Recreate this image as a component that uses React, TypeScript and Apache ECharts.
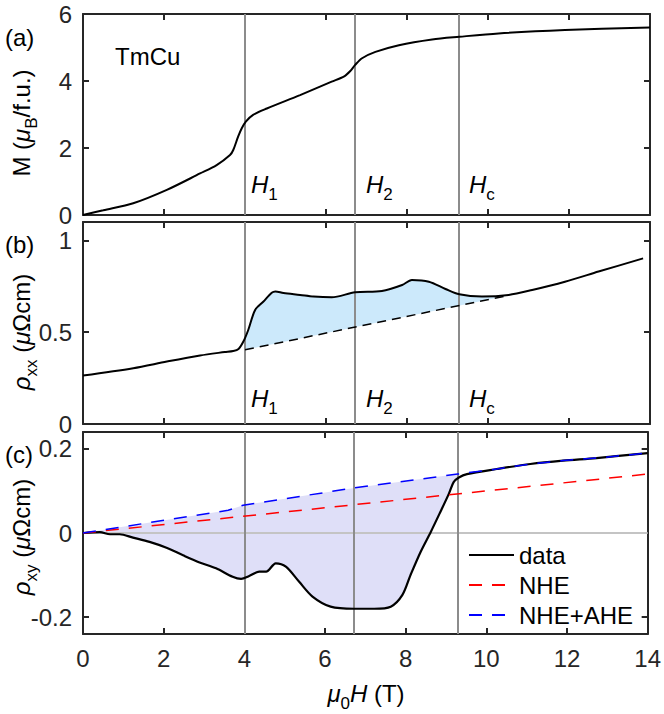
import React, { useEffect, useRef } from 'react';
import * as echarts from 'echarts';

// ---------- data ----------
const FIELD_M = [0, 0.5, 1.24, 2.07, 2.89, 3.3, 3.63, 3.71, 3.83, 3.92, 4.02, 4.2, 4.54, 5.36, 6.14, 6.45, 6.6, 6.72, 6.89, 7.22, 7.8, 8.62, 9.29, 10.26, 11.9, 14];
const MAGNET = [0, 0.14, 0.35, 0.75, 1.24, 1.49, 1.79, 1.94, 2.34, 2.59, 2.79, 2.99, 3.18, 3.58, 3.98, 4.14, 4.3, 4.48, 4.68, 4.87, 5.07, 5.24, 5.32, 5.42, 5.52, 5.6];

const FIELD_XX = [0, 1.24, 2.07, 2.89, 3.5, 3.71, 3.84, 3.96, 4.08, 4.25, 4.45, 4.66, 4.75, 4.95, 5.36, 5.69, 6.14, 6.72, 7.38, 7.88, 8.12, 8.54, 8.95, 9.29, 9.85, 10.51, 11.09, 11.9, 12.73, 13.83];
const RHO_XX = [0.264, 0.304, 0.34, 0.373, 0.392, 0.398, 0.409, 0.449, 0.512, 0.621, 0.666, 0.715, 0.722, 0.713, 0.703, 0.694, 0.69, 0.717, 0.724, 0.757, 0.784, 0.775, 0.735, 0.706, 0.694, 0.703, 0.73, 0.775, 0.83, 0.902];
const FIELD_BASE = [4.0, 10.5];
const RHO_BASE = [0.404, 0.7];

const FIELD_XY = [0, 0.42, 0.67, 0.91, 1.24, 1.65, 2.07, 2.48, 2.89, 3.3, 3.71, 3.92, 4.12, 4.37, 4.54, 4.78, 5.03, 5.36, 5.69, 6.14, 6.72, 7.22, 7.63, 7.92, 8.12, 8.37, 8.62, 8.86, 9.07, 9.19, 9.32, 9.52, 10.26, 11.09, 11.9, 12.73, 14];
const RHO_XY = [0, 0.002, -0.003, -0.003, -0.011, -0.021, -0.035, -0.053, -0.07, -0.084, -0.104, -0.109, -0.102, -0.092, -0.092, -0.072, -0.08, -0.116, -0.151, -0.175, -0.18, -0.18, -0.175, -0.147, -0.1, -0.045, 0.002, 0.05, 0.093, 0.121, 0.132, 0.14, 0.152, 0.164, 0.172, 0.178, 0.19];
const FIELD_NHE = [0, 14];
const RHO_NHE = [0, 0.14];
const FIELD_AHE = [0, 3.6, 3.97, 6.72, 9.29, 10.26, 11.09, 11.9, 12.73, 14];
const RHO_AHE = [0, 0.054, 0.066, 0.107, 0.14, 0.152, 0.164, 0.172, 0.178, 0.19];

const CRIT_FIELDS = [4.0, 6.72, 9.29];
const M_TICKS = [0, 2, 4, 6];
const XX_TICKS = [0, 0.5, 1];
const XY_TICKS = [-0.2, 0, 0.2];

// ---------- styling ----------
const FONT = '"Liberation Sans", Arial, Helvetica, sans-serif';
const AX = '#262626';
const GREY = '#8c8c8c';
const DASH = [13, 10];

const zip = (xs: number[], ys: number[]) => xs.map((x, i) => [x, ys[i]]);

function xAxes(gi: number, showLabels: boolean) {
  const base: any = {
    type: 'value', gridIndex: gi, min: 0, max: 14, interval: 2,
    splitLine: { show: false },
    axisLine: { show: true, onZero: false, lineStyle: { color: AX, width: 2 } },
    axisTick: { show: true, inside: true, length: 6, lineStyle: { color: AX, width: 2 } },
  };
  return [
    { ...base, position: 'bottom', axisLabel: { show: showLabels, fontSize: 24, color: AX, fontFamily: FONT, margin: 12 } },
    { ...base, position: 'top', axisLabel: { show: false } },
  ];
}

function yAxes(gi: number, min: number, max: number, ticks: number[], fmt: (v: number) => string) {
  const base: any = {
    type: 'value', gridIndex: gi, min, max,
    splitLine: { show: false },
    axisLine: { show: true, onZero: false, lineStyle: { color: AX, width: 2 } },
    axisTick: { show: true, inside: true, length: 6, customValues: ticks, lineStyle: { color: AX, width: 2 } },
  };
  return [
    { ...base, position: 'left', axisLabel: { show: true, customValues: ticks, formatter: (v: number) => fmt(v), fontSize: 24, color: AX, fontFamily: FONT, margin: 11 } },
    { ...base, position: 'right', axisLabel: { show: false } },
  ];
}

const richBase = {
  n: { fontSize: 24, fontFamily: FONT, color: '#000' },
  i: { fontSize: 24, fontFamily: FONT, fontStyle: 'italic', color: '#000' },
  s: { fontSize: 17, fontFamily: FONT, color: '#000', padding: [21, 0, 0, 0] },
};

function label(x: number, y: number, text: string, align = 'left', rotation = 0) {
  return {
    type: 'text', x, y, rotation, z: 10, silent: true,
    style: {
      text, rich: richBase, fontSize: 24, fontFamily: FONT, fill: '#000',
      align, verticalAlign: 'middle', textAlign: align, textVerticalAlign: 'middle',
    },
  };
}

function markSeries(gi: number, withZero: boolean) {
  const data: any[] = CRIT_FIELDS.map((v) => ({ xAxis: v, lineStyle: { color: GREY, width: 2, type: 'solid' } }));
  if (withZero) data.unshift({ yAxis: 0, lineStyle: { color: '#c4c4c4', width: 2, type: 'solid' } });
  return {
    type: 'line', xAxisIndex: 2 * gi, yAxisIndex: 2 * gi, data: [], z: 3, silent: true,
    markLine: { silent: true, symbol: 'none', label: { show: false }, emphasis: { disabled: true }, animation: false, data },
  };
}

function fillSeries(gi: number, pts: number[][], color: string) {
  return {
    type: 'custom', xAxisIndex: 2 * gi, yAxisIndex: 2 * gi, silent: true, z: 1,
    data: [[0, 0]],
    renderItem: (_p: any, api: any) => ({
      type: 'polygon',
      shape: { points: pts.map((p) => api.coord(p)) },
      style: { fill: color, stroke: 'none' },
    }),
  };
}

export default function App() {
  const ref = useRef<HTMLDivElement>(null);
  useEffect(() => {
    const chart = echarts.init(ref.current!, null, { renderer: 'svg' });

    const xxPts = zip(FIELD_XX, RHO_XX).filter((p) => p[0] >= 3.96 && p[0] <= 10.51);
    const basePts = zip(FIELD_BASE, RHO_BASE);
    const fillB = [...xxPts, ...basePts.slice().reverse()];

    const ahePts = zip(FIELD_AHE, RHO_AHE).filter((p) => p[0] <= 9.29);
    const xyPts = zip(FIELD_XY, RHO_XY).filter((p) => p[0] <= 9.32);
    const fillC = [...ahePts, ...xyPts.slice().reverse()];

    const fmtM = (v: number) => String(v);
    const fmtXY = (v: number) => (Math.abs(v) < 1e-9 ? '0' : v < 0 ? '-' + String(Math.abs(v)) : String(v));

    const option: any = {
      animation: false,
      backgroundColor: '#fff',
      textStyle: { fontFamily: FONT },
      grid: [
        { left: 83, width: 567, top: 14, height: 201 },
        { left: 83, width: 567, top: 222, height: 202 },
        { left: 83, width: 567, top: 432, height: 202 },
      ],
      xAxis: [...xAxes(0, false), ...xAxes(1, false), ...xAxes(2, true)],
      yAxis: [
        ...yAxes(0, 0, 6, M_TICKS, fmtM),
        ...yAxes(1, 0, 1.1, XX_TICKS, fmtM),
        ...yAxes(2, -0.24, 0.24, XY_TICKS, fmtXY),
      ],
      legend: {
        orient: 'vertical', left: 463, top: 538,
        itemWidth: 45, itemHeight: 14, itemGap: 6,
        itemStyle: { opacity: 0 },
        textStyle: { fontSize: 24, fontFamily: FONT, color: '#000', lineHeight: 24 },
        data: ['data', 'NHE', 'NHE+AHE'],
        selectedMode: false,
      },
      series: [
        // panel (a)
        markSeries(0, false),
        {
          name: 'M', type: 'line', xAxisIndex: 0, yAxisIndex: 0, data: zip(FIELD_M, MAGNET),
          smooth: 0.3, symbol: 'none', z: 5, lineStyle: { color: '#000', width: 2 }, itemStyle: { color: '#000' },
        },
        // panel (b)
        fillSeries(1, fillB, '#cce9fb'),
        markSeries(1, false),
        {
          name: 'rhoxx', type: 'line', xAxisIndex: 2, yAxisIndex: 2, data: zip(FIELD_XX, RHO_XX),
          smooth: 0.3, symbol: 'none', z: 5, lineStyle: { color: '#000', width: 2 }, itemStyle: { color: '#000' },
        },
        {
          name: 'base', type: 'line', xAxisIndex: 2, yAxisIndex: 2, data: zip(FIELD_BASE, RHO_BASE),
          symbol: 'none', z: 5, lineStyle: { color: '#000', width: 1.5, type: [9, 6] }, itemStyle: { color: '#000' },
        },
        // panel (c)
        fillSeries(2, fillC, '#dfdff8'),
        markSeries(2, true),
        {
          name: 'data', type: 'line', xAxisIndex: 4, yAxisIndex: 4, data: zip(FIELD_XY, RHO_XY),
          smooth: 0.3, symbol: 'none', z: 5, lineStyle: { color: '#000', width: 2.2 }, itemStyle: { color: '#000' },
        },
        {
          name: 'NHE', type: 'line', xAxisIndex: 4, yAxisIndex: 4, data: zip(FIELD_NHE, RHO_NHE),
          symbol: 'none', z: 6, lineStyle: { color: '#ff0000', width: 1.5, type: DASH }, itemStyle: { color: '#ff0000' },
        },
        {
          name: 'NHE+AHE', type: 'line', xAxisIndex: 4, yAxisIndex: 4, data: zip(FIELD_AHE, RHO_AHE),
          symbol: 'none', z: 6, lineStyle: { color: '#0000ff', width: 1.5, type: DASH }, itemStyle: { color: '#0000ff' },
        },
      ],
      graphic: [
        label(5, 37, '{n|(a)}'),
        label(5, 244, '{n|(b)}'),
        label(5, 454, '{n|(c)}'),
        label(115, 56, '{n|TmCu}'),
        label(251, 184, '{i|H}{s|1}'),
        label(366, 184, '{i|H}{s|2}'),
        label(469, 184, '{i|H}{s|c}'),
        label(251, 398, '{i|H}{s|1}'),
        label(366, 398, '{i|H}{s|2}'),
        label(469, 398, '{i|H}{s|c}'),
        label(366, 693, '{i|μ}{s|0}{i|H}{n| (T)}', 'center'),
        label(21, 123, '{n|M (}{i|μ}{s|B}{n|/f.u.)}', 'center', Math.PI / 2),
        label(21, 332, '{i|ρ}{s|xx}{n| (}{i|μ}{n|Ωcm)}', 'center', Math.PI / 2),
        label(21, 537, '{i|ρ}{s|xy}{n| (}{i|μ}{n|Ωcm)}', 'center', Math.PI / 2),
      ],
    };
    chart.setOption(option);
    return () => chart.dispose();
  }, []);
  return <div ref={ref} style={{ position: 'fixed', left: 0, top: 0, width: 664, height: 714 }} />;
}
